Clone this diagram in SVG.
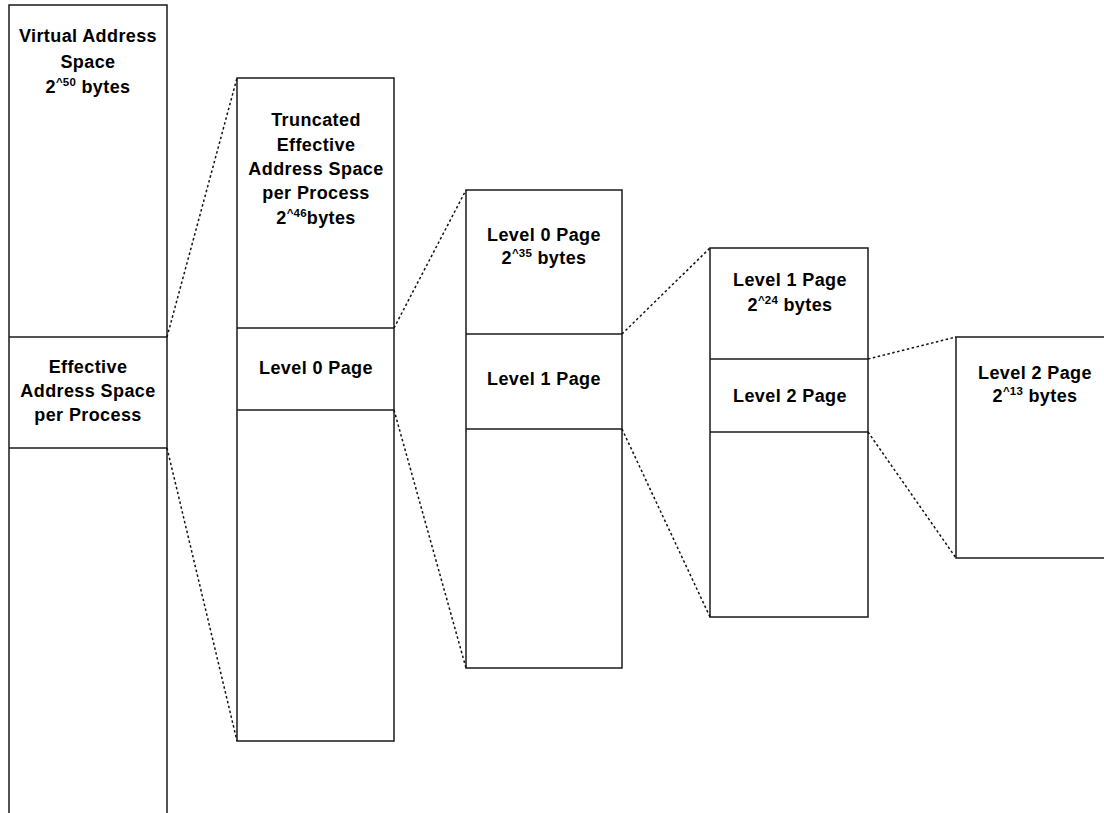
<svg xmlns="http://www.w3.org/2000/svg" width="1104" height="813" viewBox="0 0 1104 813">
<style>
.box{fill:#fff;stroke:#1a1a1a;stroke-width:1.5}
.div{stroke:#1a1a1a;stroke-width:1.5}
.con{stroke:#111;stroke-width:1.5;stroke-dasharray:2.5 2.5;fill:none}
text{font-family:"Liberation Sans",Arial,sans-serif;font-weight:bold;font-size:18px;letter-spacing:0.4px;text-anchor:middle;fill:#000}
.sup{font-size:11.5px;letter-spacing:0.2px}
</style>
<rect width="1104" height="813" fill="#fff"/>
<g id="virtual-address-space">
<rect class="box" x="9" y="5" width="158" height="830"/>
<line class="div" x1="9" y1="337" x2="167" y2="337"/>
<line class="div" x1="9" y1="448" x2="167" y2="448"/>
<text x="88" y="42">Virtual Address</text>
<text x="88" y="68">Space</text>
<text x="88" y="93">2<tspan class="sup" dy="-7">^50</tspan><tspan dy="7"> bytes</tspan></text>
<text x="88" y="373">Effective</text>
<text x="88" y="397">Address Space</text>
<text x="88" y="421">per Process</text>
</g>
<g id="truncated-effective-address-space">
<rect class="box" x="237" y="78" width="157" height="663"/>
<line class="div" x1="237" y1="328" x2="394" y2="328"/>
<line class="div" x1="237" y1="410" x2="394" y2="410"/>
<text x="316" y="126">Truncated</text>
<text x="316" y="151">Effective</text>
<text x="316" y="175">Address Space</text>
<text x="316" y="199">per Process</text>
<text x="316" y="224">2<tspan class="sup" dy="-7">^46</tspan><tspan dy="7">bytes</tspan></text>
<text x="316" y="374">Level 0 Page</text>
</g>
<g id="level-0-page">
<rect class="box" x="466" y="190" width="156" height="478"/>
<line class="div" x1="466" y1="334" x2="622" y2="334"/>
<line class="div" x1="466" y1="429" x2="622" y2="429"/>
<text x="544" y="241">Level 0 Page</text>
<text x="544" y="264">2<tspan class="sup" dy="-7">^35</tspan><tspan dy="7"> bytes</tspan></text>
<text x="544" y="385">Level 1 Page</text>
</g>
<g id="level-1-page">
<rect class="box" x="710" y="248" width="158" height="369"/>
<line class="div" x1="710" y1="359" x2="868" y2="359"/>
<line class="div" x1="710" y1="432" x2="868" y2="432"/>
<text x="790" y="286">Level 1 Page</text>
<text x="790" y="311">2<tspan class="sup" dy="-7">^24</tspan><tspan dy="7"> bytes</tspan></text>
<text x="790" y="402">Level 2 Page</text>
</g>
<g id="level-2-page">
<rect class="box" x="956" y="337" width="158" height="221"/>
<text x="1035" y="379">Level 2 Page</text>
<text x="1035" y="402">2<tspan class="sup" dy="-7">^13</tspan><tspan dy="7"> bytes</tspan></text>
</g>
<g id="connectors">
<line class="con" x1="167" y1="337" x2="237" y2="78"/>
<line class="con" x1="167" y1="448" x2="237" y2="741"/>
<line class="con" x1="394" y1="328" x2="466" y2="190"/>
<line class="con" x1="394" y1="410" x2="466" y2="668"/>
<line class="con" x1="622" y1="334" x2="710" y2="248"/>
<line class="con" x1="622" y1="429" x2="710" y2="617"/>
<line class="con" x1="868" y1="359" x2="956" y2="337"/>
<line class="con" x1="868" y1="432" x2="956" y2="558"/>
</g>
</svg>
